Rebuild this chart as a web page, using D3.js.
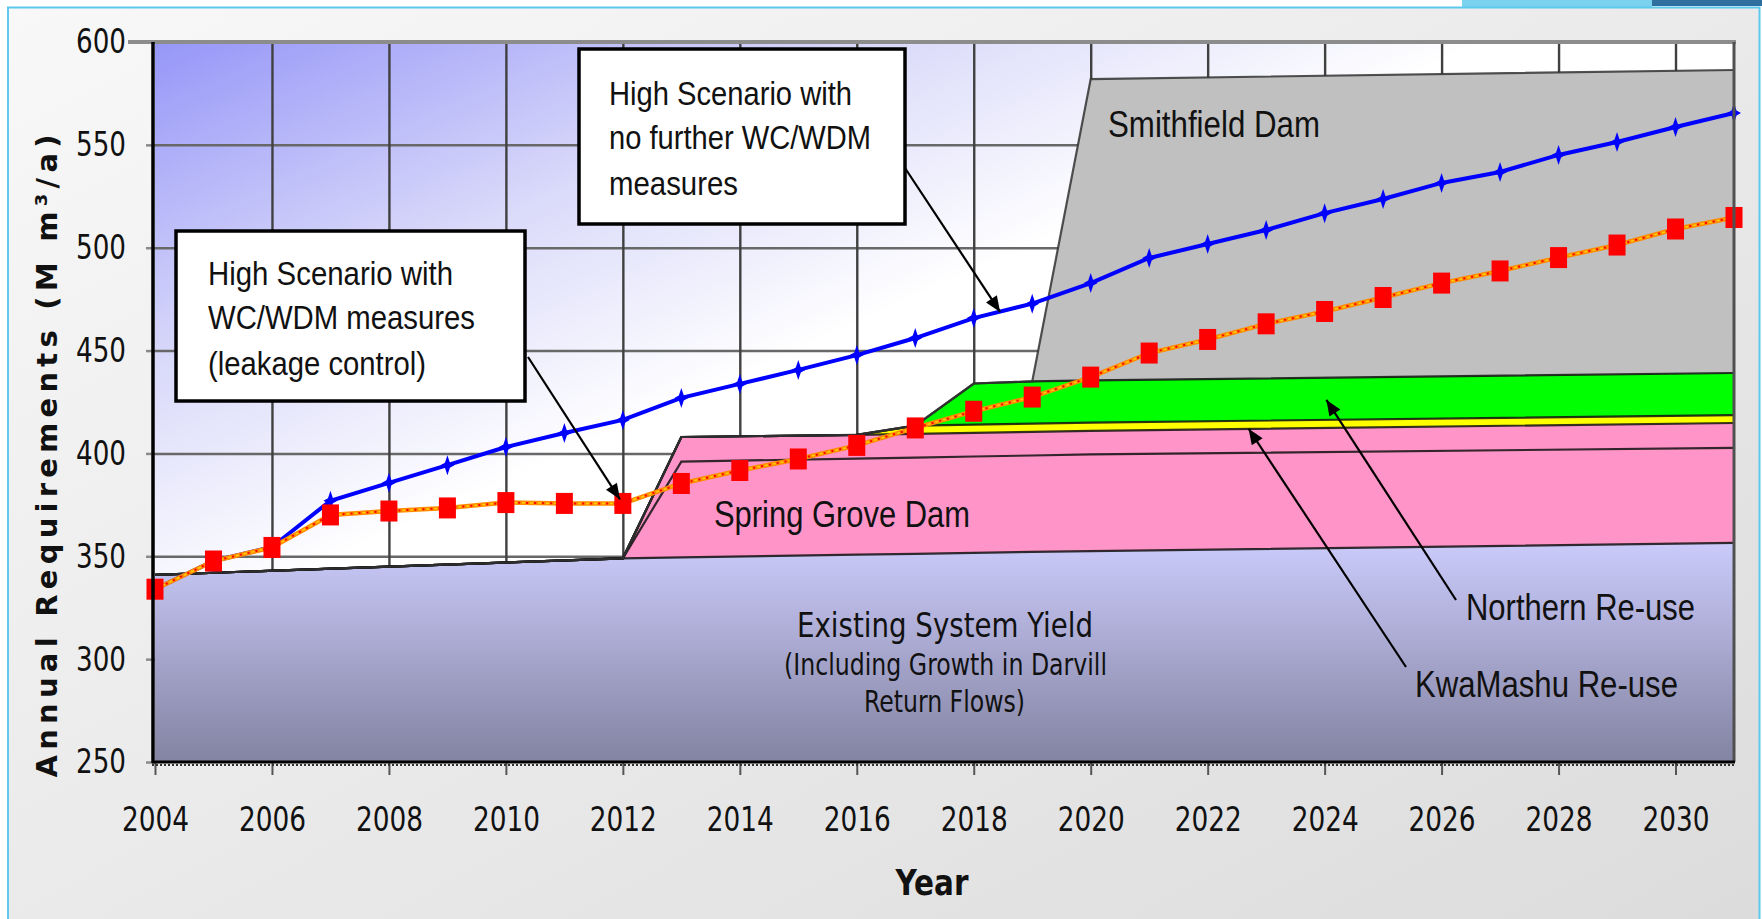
<!DOCTYPE html>
<html>
<head>
<meta charset="utf-8">
<script src="https://cdn.jsdelivr.net/npm/d3@7"></script>
<style>
  html, body { margin: 0; padding: 0; background: #fff; }
  svg { display: block; font-family: "Liberation Sans Narrow", "Liberation Sans", Arial, sans-serif; }
</style>
</head>
<body>
<svg id="chart" width="1762" height="919"></svg>
<script>
// demand scenarios, one value per year
const years = [2004, 2005, 2006, 2007, 2008, 2009, 2010, 2011, 2012, 2013, 2014, 2015, 2016, 2017,
  2018, 2019, 2020, 2021, 2022, 2023, 2024, 2025, 2026, 2027, 2028, 2029, 2030, 2031];
const highNoWcwdm = [334, 347.7, 354.5, 377, 385.7, 394.3, 403.1, 409.9, 416.3, 427, 433.8, 440.6, 447.8, 456.1,
  465.8, 472.8, 482.8, 495, 501.8, 508.6, 516.8, 523.7, 531.5, 536.8, 545.1, 551.4, 558.7, 565.5];
const highWcwdm = [334, 347.7, 354.3, 370.1, 372, 373.5, 376.1, 375.7, 375.7, 385.4, 391.7, 397.3, 403.9, 412.4,
  420.5, 427.4, 437.1, 448.8, 455.4, 463, 469, 475.8, 482.8, 488.7, 495.2, 501.3, 509.1, 514.7];

// supply schemes (M m3/a added by each scheme), read at the break years
const supplyYears = [2004, 2012, 2013, 2016, 2017, 2018, 2019, 2020, 2031];
const existingYield = [341, 349, 349.5, 350.8, 351.2, 351.7, 352.1, 352.5, 356.5];
const springGrove = [0, 0, 46.5, 46.7, 46.8, 46.8, 46.9, 47, 46.2];
const springGroveUpper = [0, 0, 12, 11.5, 11.5, 11.5, 11.5, 11.5, 12.1];
const kwaMashuReuse = [0, 0, 0, 0, 4, 4, 4, 4, 3.8];
const northernReuse = [0, 0, 0, 0, 0, 20, 20.5, 20.5, 20.5];
const smithfieldDam = [0, 0, 0, 0, 0, 0, 0, 146.5, 147.3];

const yTicks = [250, 300, 350, 400, 450, 500, 550, 600];
const xTicks = [2004, 2006, 2008, 2010, 2012, 2014, 2016, 2018, 2020, 2022, 2024, 2026, 2028, 2030];

const boxLowText = ['High Scenario with', 'WC/WDM measures', '(leakage control)'];
const boxHighText = ['High Scenario with', 'no further WC/WDM', 'measures'];
const yieldText = ['Existing System Yield', '(Including Growth in Darvill', 'Return Flows)'];

const svg = d3.select('#chart');
const plot = { left: 155, right: 1734, top: 42, bottom: 762 };

const x = d3.scaleLinear().domain([2004, 2031]).range([plot.left, plot.right]);
const y = d3.scaleLinear().domain([250, 600]).range([plot.bottom, plot.top]);

const defs = svg.append('defs');

function linGrad(id, attrs, stops) {
  const g = defs.append('linearGradient').attr('id', id);
  Object.entries(attrs).forEach(([k, v]) => g.attr(k, v));
  stops.forEach(([o, c]) => g.append('stop').attr('offset', o).attr('stop-color', c));
}

linGrad('panelBg', { x1: 0, y1: 0, x2: 1, y2: 1 }, [[0, '#f8f8f8'], [1, '#dcdcdc']]);
linGrad('plotBg', { gradientUnits: 'userSpaceOnUse', x1: plot.left, y1: plot.top, x2: 378, y2: 540 },
  [[0, '#9696f8'], [0.55, '#dadafa'], [1, '#ffffff']]);
linGrad('yieldFill', { gradientUnits: 'userSpaceOnUse', x1: 0, y1: 545, x2: 0, y2: plot.bottom },
  [[0, '#cacafa'], [1, '#8383a2']]);

defs.append('clipPath').attr('id', 'plotClip')
  .append('rect').attr('x', plot.left).attr('y', plot.top)
  .attr('width', plot.right - plot.left).attr('height', plot.bottom - plot.top);

defs.append('marker')
  .attr('id', 'arrow')
  .attr('viewBox', '0 0 12 10')
  .attr('refX', 12).attr('refY', 5)
  .attr('markerWidth', 17).attr('markerHeight', 13)
  .attr('markerUnits', 'userSpaceOnUse')
  .attr('orient', 'auto')
  .append('path').attr('d', 'M0,0L12,5L0,10z').attr('fill', '#000');

// slide frame
svg.append('rect').attr('x', 9).attr('y', 8).attr('width', 1750).attr('height', 911).attr('fill', 'url(#panelBg)');
svg.append('rect').attr('x', 1462).attr('y', 0).attr('width', 190).attr('height', 7).attr('fill', '#7ad2ef');
svg.append('rect').attr('x', 1652).attr('y', 0).attr('width', 110).attr('height', 6).attr('fill', '#2f6f9f');
svg.append('path').attr('d', 'M8,919V7.5H1759.5V919').attr('fill', 'none').attr('stroke', '#5ec8ee').attr('stroke-width', 2);

// plot background and grid
svg.append('rect').attr('x', plot.left).attr('y', plot.top)
  .attr('width', plot.right - plot.left).attr('height', plot.bottom - plot.top)
  .attr('fill', 'url(#plotBg)');

const gridY = svg.append('g').attr('transform', `translate(${plot.left},0)`)
  .call(d3.axisLeft(y).tickValues(yTicks.filter(v => v > 250 && v < 600))
    .tickSize(-(plot.right - plot.left)).tickFormat(''));
gridY.select('.domain').remove();
gridY.selectAll('line').attr('stroke', '#686868').attr('stroke-width', 2.5);

const gridX = svg.append('g').attr('transform', `translate(0,${plot.bottom})`)
  .call(d3.axisBottom(x).tickValues(xTicks.filter(v => v > 2004))
    .tickSize(-(plot.bottom - plot.top)).tickFormat(''));
gridX.select('.domain').remove();
gridX.selectAll('line').attr('stroke', '#404040').attr('stroke-width', 2.4);

// stacked supply areas
const keys = ['existing', 'springGrove', 'springGroveUpper', 'kwaMashu', 'northern', 'smithfield'];
const fills = ['url(#yieldFill)', '#ff94c8', '#ff94c8', '#ffff00', '#00ff00', '#c0c0c0'];
const rows = supplyYears.map((yr, i) => ({
  year: yr,
  existing: existingYield[i],
  springGrove: springGrove[i],
  springGroveUpper: springGroveUpper[i],
  kwaMashu: kwaMashuReuse[i],
  northern: northernReuse[i],
  smithfield: smithfieldDam[i]
}));
const stacked = d3.stack().keys(keys)(rows);

const areaG = svg.append('g').attr('clip-path', 'url(#plotClip)');
const area = d3.area().x(d => x(d.data.year)).y0(d => y(d[0])).y1(d => y(d[1]));
const topLine = d3.line().x(d => x(d.data.year)).y(d => y(d[1]));

areaG.selectAll('.band')
  .data(stacked)
  .join('path')
  .attr('class', 'band')
  .attr('d', area)
  .attr('fill', (d, i) => fills[i]);

areaG.selectAll('.band-edge')
  .data(stacked)
  .join('path')
  .attr('class', 'band-edge')
  .attr('d', topLine)
  .attr('fill', 'none')
  .attr('stroke', (d, i) => i === 5 ? '#333' : '#111')
  .attr('stroke-width', 2.2)
  .attr('stroke-opacity', 0.85);

// demand lines
const line = d3.line().x((d, i) => x(years[i])).y(d => y(d));

const star4 = {
  draw(ctx, size) {
    const h = Math.sqrt(size);
    ctx.moveTo(0, -h);
    ctx.lineTo(h * 0.25, -h * 0.25);
    ctx.lineTo(h * 0.7, 0);
    ctx.lineTo(h * 0.25, h * 0.25);
    ctx.lineTo(0, h);
    ctx.lineTo(-h * 0.25, h * 0.25);
    ctx.lineTo(-h * 0.7, 0);
    ctx.lineTo(-h * 0.25, -h * 0.25);
    ctx.closePath();
  }
};

svg.append('path').attr('d', line(highNoWcwdm))
  .attr('fill', 'none').attr('stroke', '#0000ff').attr('stroke-width', 4);
svg.append('g').selectAll('path')
  .data(highNoWcwdm)
  .join('path')
  .attr('transform', (d, i) => `translate(${x(years[i])},${y(d)})`)
  .attr('d', d3.symbol().type(star4).size(100))
  .attr('fill', '#0000ff');

svg.append('path').attr('d', line(highWcwdm))
  .attr('fill', 'none').attr('stroke', '#ff8c00').attr('stroke-width', 4.5);
svg.append('path').attr('d', line(highWcwdm))
  .attr('fill', 'none').attr('stroke', '#ffd000').attr('stroke-width', 1.5).attr('stroke-dasharray', '3,5');
svg.append('path').attr('d', line(highWcwdm))
  .attr('fill', 'none').attr('stroke', '#ff0000').attr('stroke-width', 2).attr('stroke-dasharray', '2,6')
  .attr('stroke-dashoffset', 4);
svg.append('g').selectAll('rect')
  .data(highWcwdm)
  .join('rect')
  .attr('x', (d, i) => x(years[i]) - 8.5)
  .attr('y', d => y(d) - 10.5)
  .attr('width', 17)
  .attr('height', 21)
  .attr('fill', '#ff0000');

// axes
const yAxis = svg.append('g').attr('transform', `translate(${plot.left},0)`)
  .call(d3.axisLeft(y).tickValues(yTicks).tickSize(9).tickPadding(20));
yAxis.select('.domain').remove();
yAxis.selectAll('line').attr('stroke', '#8a8a8a').attr('stroke-width', 2.5);
yAxis.selectAll('text')
  .attr('fill', '#111')
  .style('font-family', '"DejaVu Sans Condensed", "DejaVu Sans", sans-serif')
  .style('font-size', '34px')
  .attr('textLength', 50).attr('lengthAdjust', 'spacingAndGlyphs');

const xAxis = svg.append('g').attr('transform', `translate(0,${plot.bottom})`)
  .call(d3.axisBottom(x).tickValues(xTicks).tickSize(13).tickPadding(32).tickFormat(d3.format('d')));
xAxis.select('.domain').remove();
xAxis.selectAll('line').attr('stroke', '#555').attr('stroke-width', 2);
xAxis.selectAll('text')
  .attr('fill', '#111')
  .style('font-family', '"DejaVu Sans Condensed", "DejaVu Sans", sans-serif')
  .style('font-size', '34px')
  .attr('textLength', 67).attr('lengthAdjust', 'spacingAndGlyphs');

// plot frame
svg.append('line').attr('x1', 128).attr('x2', plot.right + 2).attr('y1', plot.top).attr('y2', plot.top)
  .attr('stroke', '#8c8c8c').attr('stroke-width', 4);
svg.append('line').attr('x1', plot.right).attr('x2', plot.right).attr('y1', plot.top).attr('y2', plot.bottom)
  .attr('stroke', '#505050').attr('stroke-width', 3);
svg.append('line').attr('x1', plot.left - 2).attr('x2', plot.left - 2).attr('y1', plot.top).attr('y2', plot.bottom + 1)
  .attr('stroke', '#000').attr('stroke-width', 3.5);
svg.append('line').attr('x1', plot.left - 3).attr('x2', plot.right + 1).attr('y1', plot.bottom).attr('y2', plot.bottom)
  .attr('stroke', '#000').attr('stroke-width', 3);
svg.append('line').attr('x1', plot.left - 3).attr('x2', plot.right + 1).attr('y1', plot.bottom + 3).attr('y2', plot.bottom + 3)
  .attr('stroke', '#333').attr('stroke-width', 2).attr('stroke-dasharray', '2,2');

// axis titles
svg.append('text')
  .attr('transform', 'translate(57,456) rotate(-90)')
  .attr('text-anchor', 'middle')
  .style('font-family', '"DejaVu Sans", sans-serif')
  .style('font-weight', 'bold')
  .style('font-size', '29px')
  .attr('fill', '#111')
  .attr('textLength', 643).attr('lengthAdjust', 'spacing')
  .text('Annual Requirements (M m³/a)');

svg.append('text')
  .attr('x', 932).attr('y', 895)
  .attr('text-anchor', 'middle')
  .style('font-family', '"DejaVu Sans", sans-serif')
  .style('font-weight', 'bold')
  .style('font-size', '35px')
  .attr('fill', '#111')
  .attr('textLength', 73).attr('lengthAdjust', 'spacingAndGlyphs')
  .text('Year');

// labels
function label(txt, px, py, size, w, family) {
  return svg.append('text')
    .attr('x', px).attr('y', py)
    .style('font-size', size + 'px')
    .style('font-family', family || null)
    .attr('fill', '#111')
    .attr('textLength', w).attr('lengthAdjust', 'spacingAndGlyphs')
    .text(txt);
}

const condensed = '"DejaVu Sans Condensed", "DejaVu Sans", sans-serif';
label('Smithfield Dam', 1108, 137, 37, 212);
label('Spring Grove Dam', 714, 527, 37, 256);
label(yieldText[0], 797, 637, 33, 296, condensed);
label(yieldText[1], 784, 675, 30, 323, condensed);
label(yieldText[2], 864, 712, 30, 161, condensed);
label('Northern Re-use', 1466, 620, 37, 229);
label('KwaMashu Re-use', 1415, 697, 37, 263);

// callout boxes with arrows
function arrow(x0, y0, yr, val) {
  svg.append('line')
    .attr('x1', x0).attr('y1', y0)
    .attr('x2', x(yr)).attr('y2', y(val))
    .attr('stroke', '#000').attr('stroke-width', 2.2)
    .attr('marker-end', 'url(#arrow)');
}

function box(bx, by, bw, bh, lines, tx, baselines, widths) {
  svg.append('rect').attr('x', bx).attr('y', by).attr('width', bw).attr('height', bh)
    .attr('fill', '#fff').attr('stroke', '#000').attr('stroke-width', 3.5);
  lines.forEach((t, i) => label(t, tx, baselines[i], 34, widths[i]));
}

arrow(528, 357, 2011.95, 377.7);
arrow(905, 168, 2018.45, 468.8);
arrow(1456, 600, 2024.03, 426);
arrow(1406, 667, 2022.7, 412);

box(176, 231, 349, 170, boxLowText, 208, [285, 329, 375], [245, 267, 218]);
box(579, 49, 326, 175, boxHighText, 609, [105, 149, 195], [243, 262, 129]);
</script>
</body>
</html>
